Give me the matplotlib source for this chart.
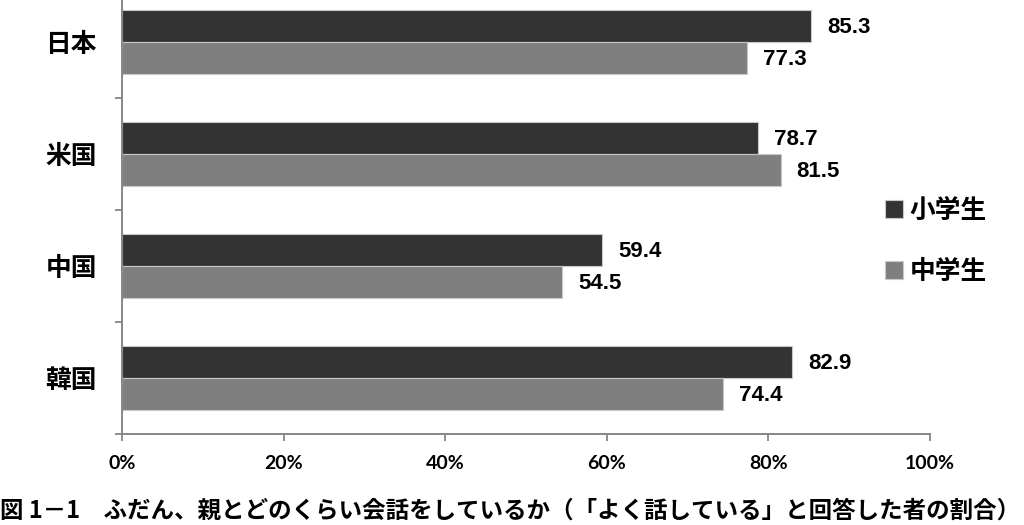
import matplotlib
matplotlib.use("Agg")
import matplotlib.pyplot as plt
import numpy as np

# ---- data ----
categories = ["日本", "米国", "中国", "韓国"]
series_names = ["小学生", "中学生"]
elementary = [85.3, 78.7, 59.4, 82.9]
junior_high = [77.3, 81.5, 54.5, 74.4]
x_ticks = [0, 20, 40, 60, 80, 100]
x_tick_labels = ["0%", "20%", "40%", "60%", "80%", "100%"]
title_text = "図 1－1　ふだん、親とどのくらい会話をしているか（「よく話している」と回答した者の割合）"

# ---- style ----
CJK = ["Noto Sans CJK JP", "DejaVu Sans"]
NUM = ["Liberation Sans", "DejaVu Sans"]
TICK = ["Lato", "Liberation Sans", "DejaVu Sans"]
dark = "#333333"
gray = "#7f7f7f"
edge = "#c8c8c8"
spine_c = "#868686"

fig = plt.figure(figsize=(10.24, 5.25), dpi=100)
W, H = 1024, 525
ax = fig.add_axes([122 / W, 1 - 434 / H, 808 / W, 448 / H])

h = 32 / 112
y = np.arange(len(categories))
b1 = ax.barh(y - h / 2, elementary, height=h, color=dark, edgecolor=edge, linewidth=0.8,
             label=series_names[0])
b2 = ax.barh(y + h / 2, junior_high, height=h, color=gray, edgecolor=edge, linewidth=0.8,
             label=series_names[1])

ax.set_xlim(0, 100)
ax.set_ylim(len(categories) - 0.5, -0.5)

for bars, vals in ((b1, elementary), (b2, junior_high)):
    for rect, v in zip(bars, vals):
        ax.annotate(f"{v:.1f}", xy=(v, rect.get_y() + rect.get_height() / 2),
                    xytext=(11.5, -1), textcoords="offset points",
                    ha="left", va="center", fontsize=16, fontweight="bold",
                    family=NUM, color="black")

# y axis: labels at centres, ticks at boundaries
ax.set_yticks(y)
ax.set_yticklabels(categories, family=CJK, fontsize=18.5, fontweight="bold")
ax.tick_params(axis="y", which="major", length=0, pad=18)
ax.set_yticks(np.arange(-0.5, len(categories) + 0.5, 1), minor=True)
ax.tick_params(axis="y", which="minor", length=5, width=1.3, color=spine_c)

ax.set_xticks(x_ticks)
ax.set_xticklabels(x_tick_labels, family=TICK, fontsize=14, fontweight="bold")
ax.tick_params(axis="x", length=5, width=1.3, color=spine_c, pad=10)

for s in ("top", "right"):
    ax.spines[s].set_visible(False)
for s in ("left", "bottom"):
    ax.spines[s].set_color(spine_c)
    ax.spines[s].set_linewidth(1.4)

fig.legend(handles=[b1, b2], labels=series_names, loc="center left",
           bbox_to_anchor=(862 / W, 1 - 241 / H), frameon=False,
           handlelength=0.7, handleheight=0.7, handletextpad=0.25,
           labelspacing=1.32, prop={"family": CJK, "size": 18.5, "weight": "bold"})

fig.text(0.0, 1 - 518 / H, title_text, ha="left", va="baseline", fontsize=16.9,
         fontweight="bold", family=CJK)

fig.savefig("out.png", dpi=100)
